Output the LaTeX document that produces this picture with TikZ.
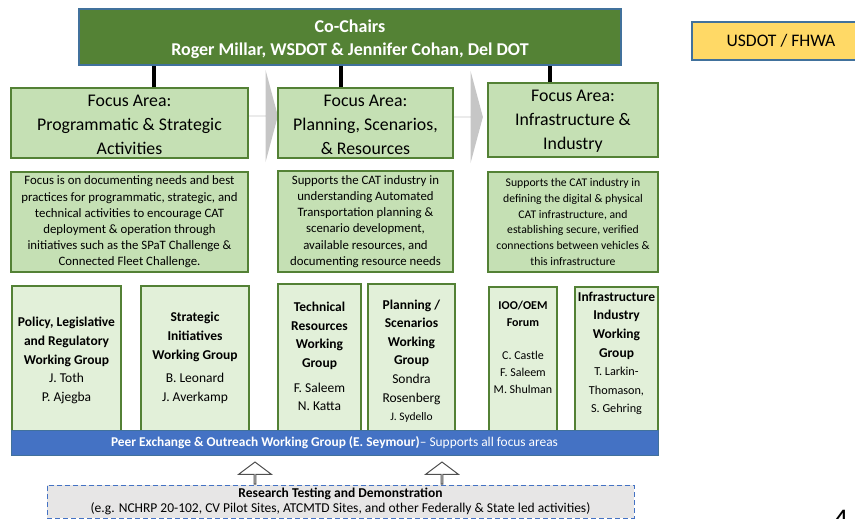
\documentclass[tikz,border=0pt]{standalone}
\usepackage{fontspec}
\setmainfont{Carlito}
\usetikzlibrary{positioning,shapes.arrows,backgrounds}

\definecolor{chairgreen}{HTML}{548235}
\definecolor{bordblue}{HTML}{41719C}
\definecolor{areagreen}{HTML}{C5E0B4}
\definecolor{areaborder}{HTML}{538135}
\definecolor{wggreen}{HTML}{E2F0D9}
\definecolor{barblue}{HTML}{4472C4}
\definecolor{sponsoryellow}{HTML}{FFD966}
\definecolor{resgray}{HTML}{E7E6E6}
\definecolor{chevgray}{HTML}{C6C6C6}
\definecolor{arrowgray}{HTML}{505050}

\tikzset{
  dims/.style 2 args={minimum width=#1pt, minimum height=#2pt},
  chairbox/.style={draw=bordblue, fill=chairgreen, line width=1.3pt, inner sep=0pt},
  chairtext/.style={text=white, align=center, inner sep=0pt, font=\bfseries\fontsize{18}{23}\selectfont},
  sponsorbox/.style={draw=bordblue, fill=sponsoryellow, line width=1.3pt, inner sep=0pt,
    font=\fontsize{17.6}{20}\selectfont},
  areabox/.style={draw=areaborder, fill=areagreen, line width=1.4pt, inner sep=0pt},
  areatext/.style={align=center, inner sep=0pt, font=\fontsize{17.8}{24}\selectfont},
  descbox/.style={draw=areaborder, fill=areagreen, line width=1.4pt, align=center, inner sep=0pt,
    font=\fontsize{12.8}{16.2}\selectfont},
  wgbox/.style={draw=areaborder, fill=wggreen, line width=1.9pt, inner sep=0pt},
  wgtext/.style={align=center, inner sep=0pt, font=\fontsize{13.5}{18.6}\selectfont},
  barbox/.style={draw=bordblue, fill=barblue, line width=0.8pt, text=white, inner sep=0pt,
    font=\fontsize{13.4}{15}\selectfont},
  resbox/.style={draw=barblue, dashed, dash pattern=on 5pt off 3pt, fill=resgray, line width=1pt, align=center, inner sep=0pt,
    font=\fontsize{13.5}{15.5}\selectfont},
  link/.style={line width=3.5pt},
  chevron/.style={single arrow, fill=chevgray, draw=none, inner sep=0pt, minimum width=92pt, minimum height=29pt,
    single arrow head extend=24.5pt, single arrow tip angle=150},
  uparrow/.style={single arrow, shape border rotate=90, draw=arrowgray, fill=white, line width=1pt, inner sep=0pt,
    minimum width=33pt, minimum height=22pt, single arrow head extend=9pt, single arrow tip angle=106}
}

\begin{document}
\begin{tikzpicture}[x=1pt,y=-1pt]
\useasboundingbox (0,0) rectangle (855,519);

% co-chairs and sponsor
\node[chairbox, dims={542}{56}] (chairs) at (350,37) {};
\node[chairtext] (chairst) at ([yshift=-2.5pt]chairs) {Co-Chairs\\Roger Millar, WSDOT \& Jennifer Cohan, Del DOT};
\node[sponsorbox, dims={178}{38}] (usdot) at (781,41) {USDOT / FHWA};

% focus areas
\node[areabox, dims={237}{70}] (fa1) at (129.5,123) {};
\node[areabox, dims={175}{70}] (fa2) at (365.5,123) {};
\node[areabox, dims={170}{74}] (fa3) at (573,120) {};
\node[areatext] (fa1t) at ([yshift=-1.5pt]fa1) {Focus Area:\\Programmatic \& Strategic\\Activities};
\node[areatext] (fa2t) at ([yshift=-1.5pt]fa2) {Focus Area:\\Planning, Scenarios,\\\& Resources};
\node[areatext] (fa3t) at ([yshift=-1pt]fa3) {Focus Area:\\Infrastructure \&\\Industry};

\draw[link] ([xshift=24.5pt]fa1.north) coordinate (l1) -- (l1 |- chairs.south);
\draw[link] ([xshift=-24.5pt]fa2.north) coordinate (l2) -- (l2 |- chairs.south);
\draw[link] ([xshift=-23pt]fa3.north) coordinate (l3) -- (l3 |- chairs.south);

\begin{scope}[on background layer]
  \node[chevron, anchor=tail] (ch1) at ([yshift=7pt]fa1.east) {};
  \node[chevron, anchor=tail] (ch2) at ([yshift=6pt]fa2.east) {};
\end{scope}

% descriptions
\node[descbox, dims={237}{100}] (d1) at (129.5,222) {Focus is on documenting needs and best\\practices for programmatic, strategic, and\\technical activities to encourage CAT\\deployment \& operation through\\initiatives such as the SPaT Challenge \&\\Connected Fleet Challenge.};
\node[descbox, dims={175}{101}] (d2) at (365.5,221.5) {Supports the CAT industry in\\understanding Automated\\Transportation planning \&\\scenario development,\\available resources, and\\documenting resource needs};
\node[descbox, dims={170}{100}, font=\fontsize{11.7}{15.8}\selectfont] (d3) at (573,222) {Supports the CAT industry in\\defining the digital \& physical\\CAT infrastructure, and\\establishing secure, verified\\connections between vehicles \&\\this infrastructure};

% working groups
\node[wgbox, dims={109}{146}] (wg1) at (66.5,359) {};
\node[wgbox, dims={108}{146}] (wg2) at (195,359) {};
\node[wgbox, dims={83}{148}] (wg3) at (319.5,358) {};
\node[wgbox, dims={87}{148}] (wg4) at (411.5,358) {};
\node[wgbox, dims={68}{145}] (wg5) at (523,359.5) {};
\node[wgbox, dims={83}{145}] (wg6) at (616.5,359.5) {};

\node[wgtext] (wg1t) at ([yshift=-1.5pt]wg1) {\textbf{Policy, Legislative}\\\textbf{and Regulatory}\\\textbf{Working Group}\\J. Toth\\P. Ajegba};
\node[wgtext] (wg2t) at ([yshift=1pt]wg2) {\textbf{Strategic}\\\textbf{Initiatives}\\\textbf{Working Group}\\[5pt]B. Leonard\\J. Averkamp};
\node[wgtext] (wg3t) at ([yshift=1.5pt]wg3) {\textbf{Technical}\\\textbf{Resources}\\\textbf{Working}\\\textbf{Group}\\[6pt]F. Saleem\\N. Katta};
\node[wgtext] (wg4t) at ([yshift=-3pt]wg4) {\textbf{Planning /}\\\textbf{Scenarios}\\\textbf{Working}\\\textbf{Group}\\Sondra\\Rosenberg\\{\fontsize{11.5}{12}\selectfont J. Sydello}};
\node[wgtext, font=\fontsize{12}{17}\selectfont] (wg5t) at ([yshift=12.5pt]wg5) {\textbf{IOO/OEM}\\\textbf{Forum}\\[16pt]C. Castle\\F. Saleem\\M. Shulman};
\node[wgtext] (wg6t) at ([yshift=6pt]wg6) {\textbf{Infrastructure}\\\textbf{Industry}\\\textbf{Working}\\\textbf{Group}\\{\fontsize{12.2}{12}\selectfont T. Larkin-}\\{\fontsize{12.2}{12}\selectfont Thomason,}\\{\fontsize{12.2}{12}\selectfont S. Gehring}};

% peer exchange and research
\node[barbox, dims={647}{25}] (peer) at (334.5,442.5) {\textbf{Peer Exchange \& Outreach Working Group (E. Seymour)}-- Supports all focus areas};
\node[resbox, dims={587}{33}] (res) at (340.5,501.5) {\textbf{Research Testing and Demonstration}\\(e.g. NCHRP 20-102, CV Pilot Sites, ATCMTD Sites, and other Federally \& State led activities)};

\node[uparrow, anchor=tail] (up1) at ([xshift=-85.5pt]res.north) {};
\node[uparrow, anchor=tail] (up2) at ([xshift=101.5pt]res.north) {};

\node[anchor=north west, inner sep=0pt, font=\fontsize{30}{32}\selectfont] (page) at (833,510) {4};
\end{tikzpicture}
\end{document}
